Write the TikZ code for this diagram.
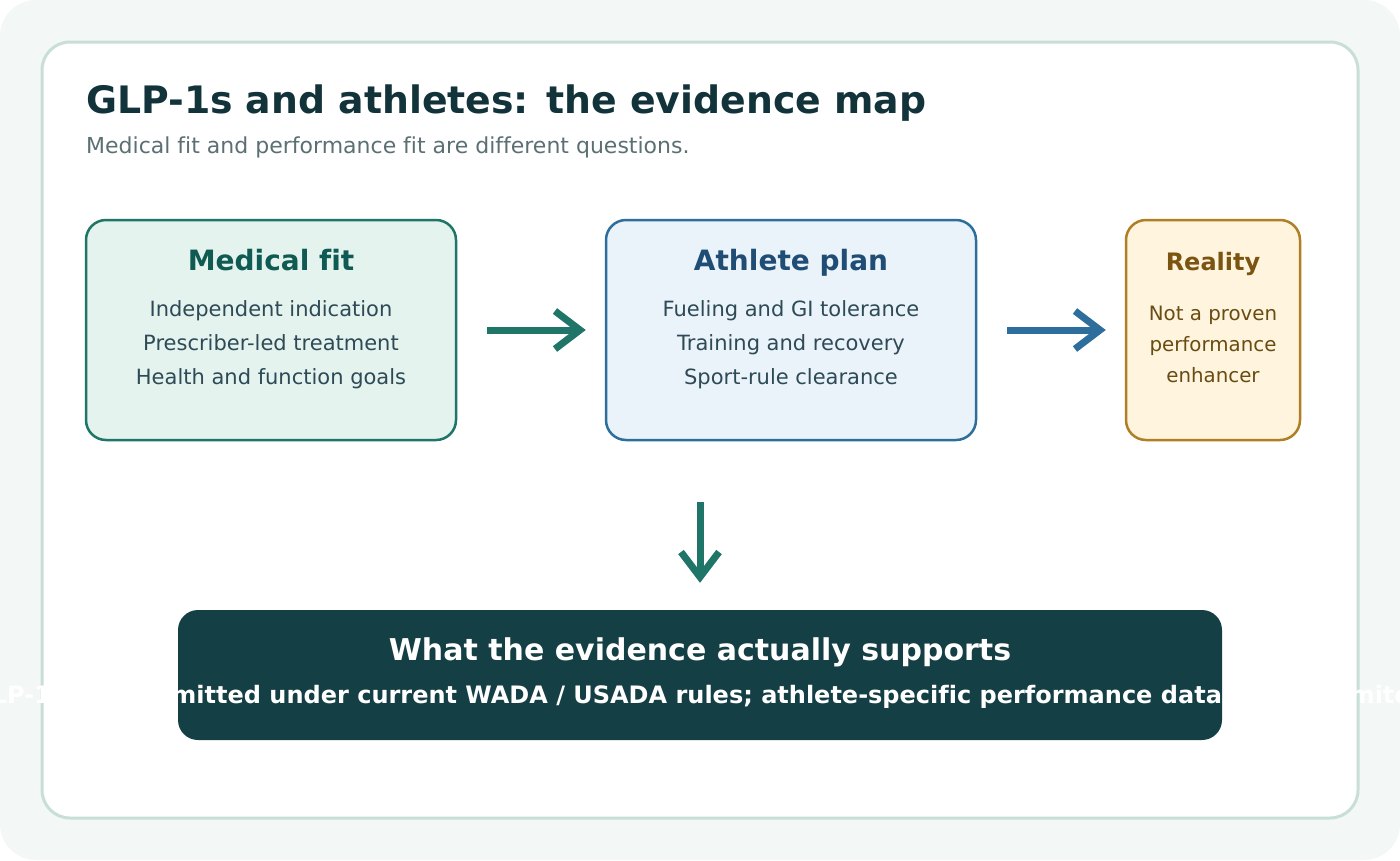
\documentclass[tikz,border=0pt]{standalone}
\usepackage{fontspec}
\setmainfont{DejaVu Sans}[Ligatures=NoCommon]
\usetikzlibrary{arrows.meta,positioning}
\definecolor{pagebg}{HTML}{F3F7F6}
\definecolor{cardline}{HTML}{C8DFD7}
\definecolor{ink}{HTML}{12333A}
\definecolor{subink}{HTML}{5C7074}
\definecolor{medfill}{HTML}{E4F3EE}
\definecolor{medline}{HTML}{1E7568}
\definecolor{medhead}{HTML}{0F5A52}
\definecolor{planfill}{HTML}{EAF3FA}
\definecolor{planline}{HTML}{2E6E9D}
\definecolor{planhead}{HTML}{1F4D75}
\definecolor{bodyink}{HTML}{2E4A56}
\definecolor{realfill}{HTML}{FFF4DE}
\definecolor{realline}{HTML}{B07E24}
\definecolor{realhead}{HTML}{7A5410}
\definecolor{realink}{HTML}{6A4C12}
\definecolor{sumfill}{HTML}{143F44}

\begin{document}
\begin{tikzpicture}[x=1pt,y=-1pt,
  box/.style={draw, line width=2.5pt, rounded corners=20pt, inner sep=0pt},
  head/.style={anchor=base, inner sep=0pt, font=\bfseries\fontsize{28}{30}\selectfont},
  item/.style={anchor=base, inner sep=0pt, font=\fontsize{21}{24}\selectfont, text=bodyink},
  flow/.style={line width=7pt, -{Straight Barb[length=25pt,width=38pt]}}]
\useasboundingbox (0,0) rectangle (1400,860);
\fill[white] (0,0) rectangle (1400,860);
\fill[pagebg, rounded corners=36pt] (0,0) rectangle (1400,860);
\draw[cardline, fill=white, line width=3pt, rounded corners=28pt] (42,42) rectangle (1358,818);

\node[anchor=base west, inner sep=0pt, text=ink, font=\bfseries\fontsize{37.8}{42}\selectfont] (title) at (86,113) {GLP-1s and athletes: the evidence map};
\node[anchor=base west, inner sep=0pt, text=subink, font=\fontsize{22}{26}\selectfont] (subtitle) at (86,153) {Medical fit and performance fit are different questions.};

\node[box, draw=medline, fill=medfill, minimum width=370pt, minimum height=220pt] (med) at (271,330) {};
\node[head, text=medhead] (medT) at (271,270) {Medical fit};
\node[item] (med1) at (271,316) {Independent indication};
\node[item] (med2) at (271,350) {Prescriber-led treatment};
\node[item] (med3) at (271,384) {Health and function goals};

\node[box, draw=planline, fill=planfill, minimum width=370pt, minimum height=220pt] (plan) at (791,330) {};
\node[head, text=planhead] (planT) at (791,270) {Athlete plan};
\node[item] (plan1) at (791,316) {Fueling and GI tolerance};
\node[item] (plan2) at (791,350) {Training and recovery};
\node[item] (plan3) at (791,384) {Sport-rule clearance};

\node[box, draw=realline, fill=realfill, minimum width=174pt, minimum height=220pt] (real) at (1213,330) {};
\node[head, text=realhead, font=\bfseries\fontsize{24}{28}\selectfont] (realT) at (1213,270) {Reality};
\node[item, text=realink, font=\fontsize{19.8}{22}\selectfont] (real1) at (1213,320) {Not a proven};
\node[item, text=realink, font=\fontsize{19.8}{22}\selectfont] (real2) at (1213,351) {performance};
\node[item, text=realink, font=\fontsize{19.8}{22}\selectfont] (real3) at (1213,382) {enhancer};

\node[fill=sumfill, rounded corners=20pt, minimum width=1044pt, minimum height=130pt, inner sep=0pt] (sum) at (700,675) {};
\node[head, text=white, font=\bfseries\fontsize{30}{34}\selectfont] (sumT) at (700,660) {What the evidence actually supports};
\node[head, text=white, font=\bfseries\fontsize{24}{28}\selectfont] (sumL) at (700,703) {GLP-1s are permitted under current WADA / USADA rules; athlete-specific performance data remain limited};

\draw[flow, medline] ([xshift=30pt]med.east) -- ([xshift=-19pt]plan.west);
\draw[flow, planline] ([xshift=30pt]plan.east) -- ([xshift=-19pt]real.west);
\draw[flow, medline] ([yshift=108pt]sum.north) -- ([yshift=27pt]sum.north);
\end{tikzpicture}
\end{document}
